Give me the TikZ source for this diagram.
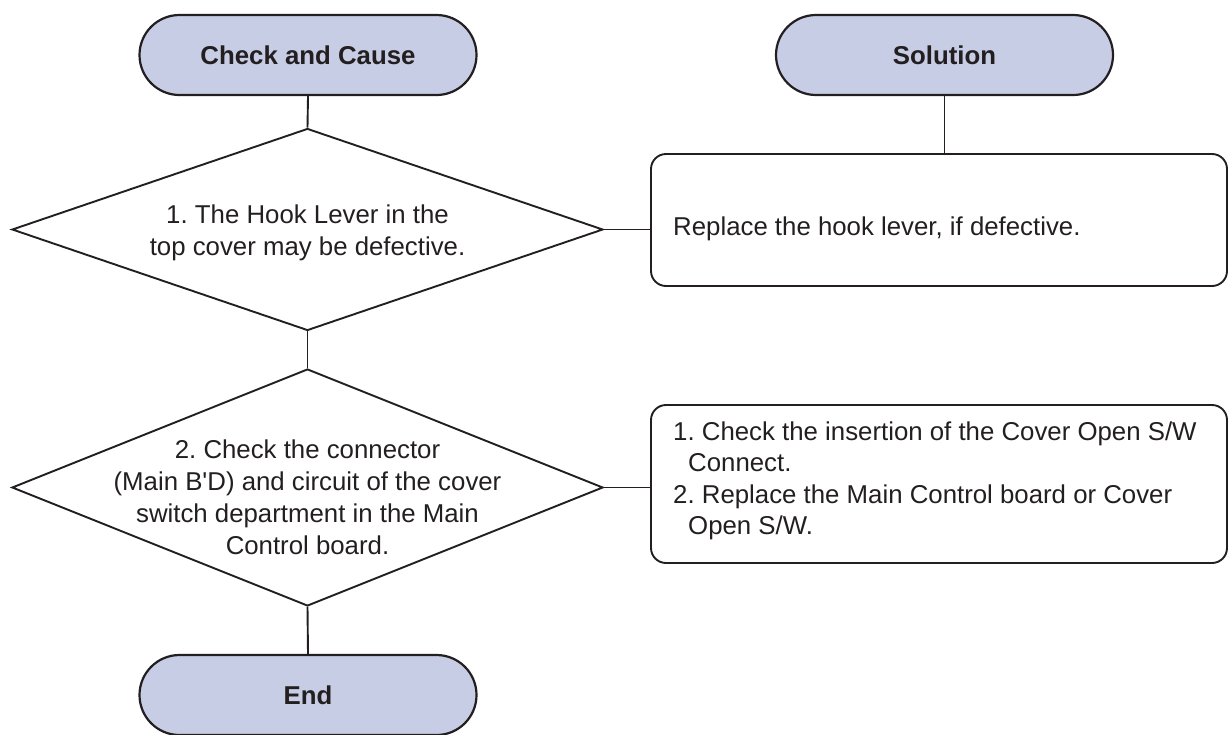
\documentclass[tikz,border=0pt]{standalone}
\usepackage{fontspec}
\setmainfont{Liberation Sans}
\usetikzlibrary{shapes.geometric}
\definecolor{ink}{HTML}{231F20}
\definecolor{termfill}{RGB}{200,205,230}
\tikzset{
  term/.style={draw=ink, fill=termfill, line width=2.2pt, rectangle, rounded corners=40pt,
    minimum width=337pt, minimum height=80pt, inner sep=0pt, text=ink,
    font=\fontsize{25.8}{31}\selectfont\bfseries},
  dec/.style={draw=ink, line width=1.9pt, diamond, inner sep=0pt, minimum width=591pt},
  dectext/.style={align=center, text=ink, inner sep=0pt, font=\fontsize{25.8}{32}\selectfont\frenchspacing},
  solbox/.style={draw=ink, line width=1.9pt, rectangle, rounded corners=15pt,
    minimum width=576pt, inner sep=0pt},
  soltext/.style={anchor=west, align=left, text=ink, inner sep=0pt,
    font=\fontsize{25.8}{31.5}\selectfont\frenchspacing},
  conn/.style={draw=ink, line width=1.9pt}
}
\begin{document}
\begin{tikzpicture}[x=1pt,y=-1pt]
\useasboundingbox (0,0) rectangle (1228,734);
\node[term] (cc) at (308,55) {Check and Cause};
\node[term] (sol) at (944.5,55) {Solution};
\node[dec, minimum height=202pt] (d1) at (307.5,229.5) {};
\node[dectext] (d1t) at (307.5,233) {1. The Hook Lever in the\\top cover may be defective.};
\node[dec, minimum height=237pt] (d2) at (307.5,487.5) {};
\node[dectext] (d2t) at (307.5,497) {2. Check the connector\\(Main B\textquotesingle D) and circuit of the cover\\switch department in the Main\\Control board.};
\node[solbox, minimum height=132pt] (b1) at (939,220) {};
\node[soltext] (b1t) at (673,229) {Replace the hook lever, if defective.};
\node[solbox, minimum height=158pt] (b2) at (939,484) {};
\node[soltext] (b2t) at (673,481) {1. Check the insertion of the Cover Open S/W\\\hspace*{15pt}Connect.\\2. Replace the Main Control board or Cover\\\hspace*{15pt}Open S/W.};
\node[term] (end) at (308,695) {End};
\draw[conn] (cc.south) -- (d1.north);
\draw[conn] (d1.south) -- (d2.north);
\draw[conn] (d2.south) -- (end.north);
\draw[conn] (sol.south) -- (sol.south |- b1.north);
\draw[conn] (d1.east) -- (d1.east -| b1.west);
\draw[conn] (d2.east) -- (d2.east -| b2.west);
\end{tikzpicture}
\end{document}
